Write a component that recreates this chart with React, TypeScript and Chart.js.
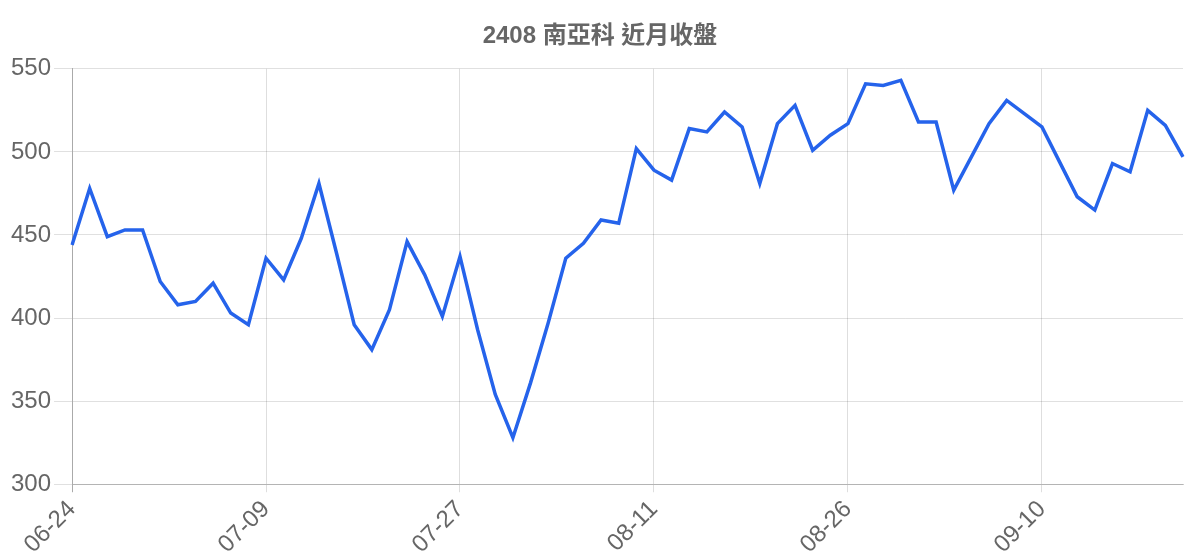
import React, { useEffect, useRef } from "react";
import { Chart, registerables } from "chart.js";

Chart.register(...registerables);

const TITLE = "2408 南亞科 近月收盤";

const dates: string[] = [
  "06-24", "06-25", "06-26", "06-27", "06-28", "07-01", "07-02", "07-03", "07-04", "07-05", "07-08",
  "07-09", "07-10", "07-11", "07-12", "07-15", "07-16", "07-17", "07-18", "07-19", "07-22", "07-23",
  "07-27", "07-29", "07-30", "07-31", "08-01", "08-02", "08-05", "08-06", "08-07", "08-08", "08-09",
  "08-11", "08-12", "08-13", "08-14", "08-15", "08-16", "08-19", "08-20", "08-21", "08-22", "08-23",
  "08-26", "08-27", "08-28", "08-29", "08-30", "09-02", "09-03", "09-04", "09-05", "09-06", "09-09",
  "09-10", "09-11", "09-12", "09-13", "09-16", "09-18", "09-19", "09-20", "09-23",
];

const closes: number[] = [
  444, 478, 449, 453, 453, 422, 408, 410, 421, 403, 396,
  436, 423, 448, 481, 439, 396, 381, 405, 446, 426, 401,
  437, 393, 354, 328, 361, 397, 436, 445, 459, 457, 502,
  489, 483, 514, 512, 524, 515, 481, 517, 528, 501, 510,
  517, 541, 540, 543, 518, 518, 477, 497, 517, 531, 523,
  515, 494, 473, 465, 493, 488, 525, 516, 497,
];

const Y_MIN = 300;
const Y_MAX = 550;
const Y_STEP = 50;

const FONT_FAMILY = "'Liberation Sans', Arial, 'Noto Sans CJK TC', sans-serif";

export default function App() {
  const canvasRef = useRef<HTMLCanvasElement | null>(null);

  useEffect(() => {
    if (!canvasRef.current) return;
    const chart = new Chart(canvasRef.current, {
      type: "line",
      data: {
        labels: dates,
        datasets: [
          {
            label: "收盤",
            data: closes,
            borderColor: "#2563eb",
            backgroundColor: "#2563eb",
            borderWidth: 3.5,
            pointRadius: 0,
            pointHoverRadius: 0,
            tension: 0,
            fill: false,
          },
        ],
      },
      options: {
        animation: false,
        responsive: true,
        maintainAspectRatio: false,
        plugins: {
          legend: { display: false },
          tooltip: { enabled: false },
          title: {
            display: true,
            text: TITLE,
            color: "#666",
            font: { family: FONT_FAMILY, size: 24, weight: "bold" },
            padding: { top: 14, bottom: 18 },
          },
        },
        scales: {
          x: {
            afterFit: (s: any) => {
              s.paddingRight = Math.max(s.paddingRight || 0, 9);
            },
            grid: {
              color: (ctx: any) => (ctx.index === 0 ? "#aaaaaa" : "rgba(0,0,0,0.13)"),
              tickLength: 8,
            },
            border: { color: "rgba(0,0,0,0.2)" },
            ticks: {
              color: "#666",
              font: { family: FONT_FAMILY, size: 24 },
              minRotation: 45,
              maxRotation: 45,
              autoSkip: true,
              maxTicksLimit: 6,
              padding: 3,
            },
          },
          y: {
            min: Y_MIN,
            max: Y_MAX,
            grid: { color: "rgba(0,0,0,0.12)", tickLength: 18 },
            border: { color: "#aaaaaa" },
            ticks: {
              stepSize: Y_STEP,
              color: "#666",
              font: { family: FONT_FAMILY, size: 24 },
              padding: 3,
            },
          },
        },
      },
    });
    return () => chart.destroy();
  }, []);

  return (
    <div style={{ width: "100%", height: 554, position: "relative" }}>
      <canvas ref={canvasRef} />
    </div>
  );
}
